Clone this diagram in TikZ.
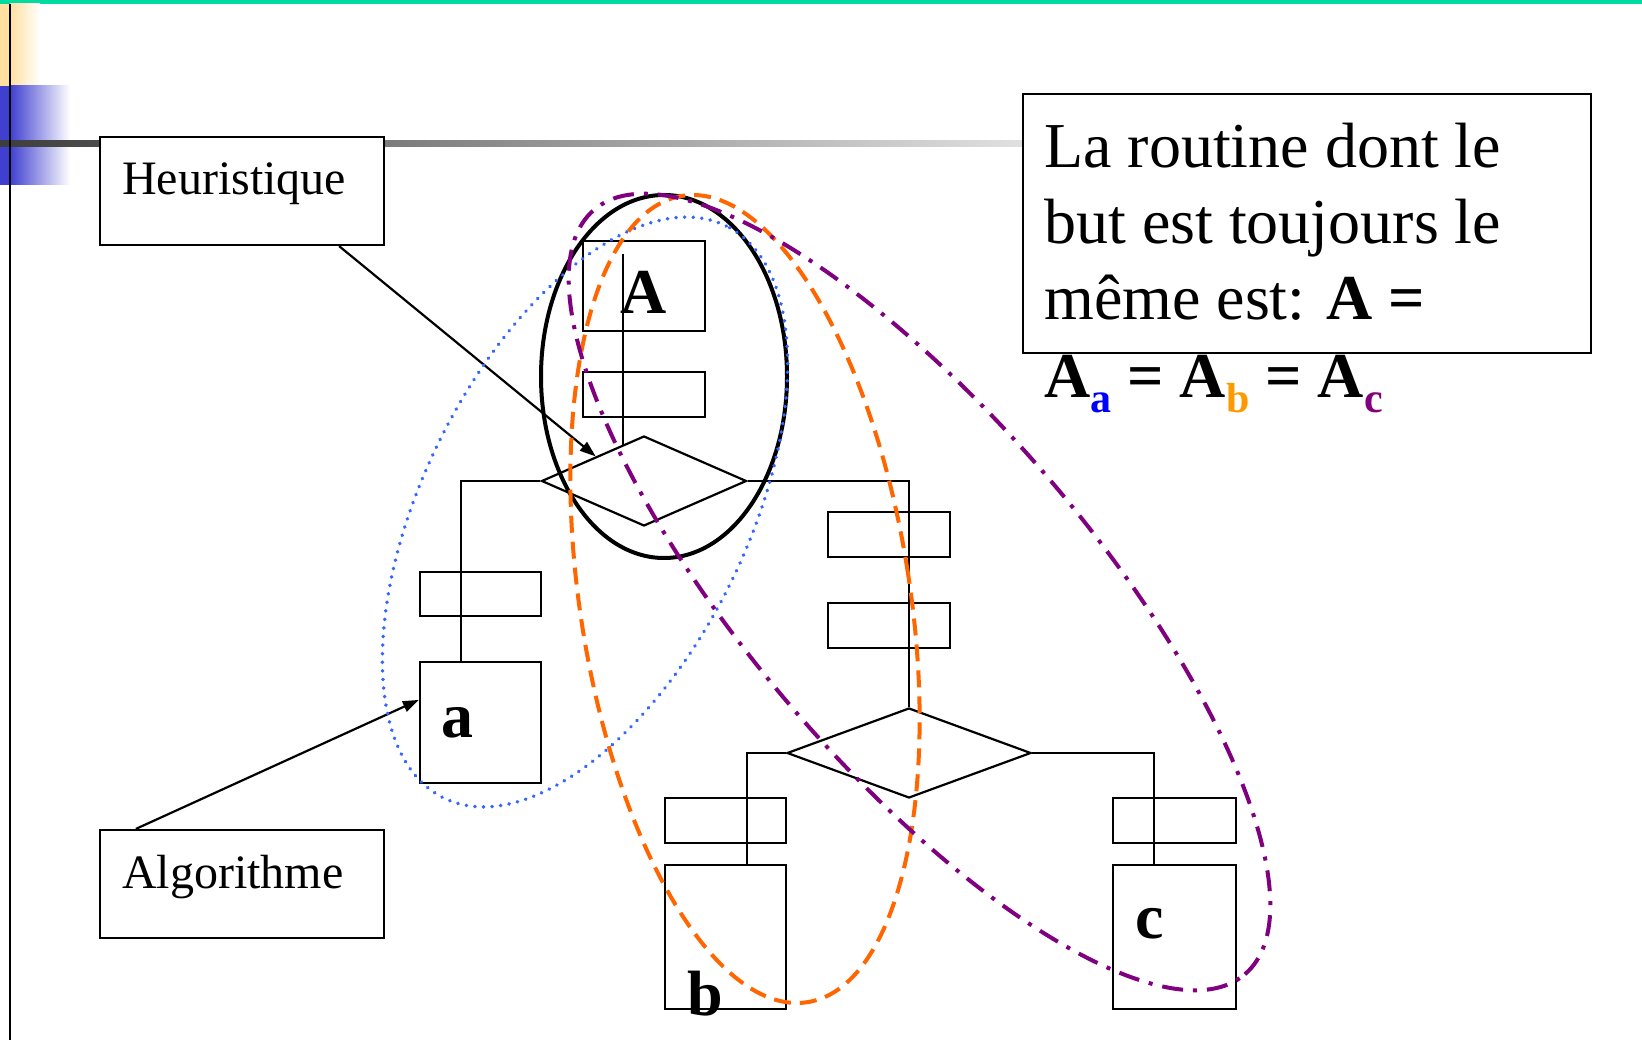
\documentclass[tikz,border=0pt]{standalone}
\usepackage{fontspec}
\setmainfont{Liberation Serif}
\usetikzlibrary{shapes.geometric,arrows.meta,calc}
\definecolor{dotblue}{RGB}{51,102,255}
\definecolor{dashorange}{RGB}{255,102,0}
\definecolor{dotpurple}{RGB}{128,0,128}
\definecolor{suba}{RGB}{0,0,255}
\definecolor{subb}{RGB}{255,153,0}
\definecolor{topgreen}{RGB}{0,220,160}
\definecolor{paleyellow}{RGB}{255,224,160}
\definecolor{deckblue}{RGB}{64,64,208}
\begin{document}
\begin{tikzpicture}[x=1pt,y=1pt,
  box/.style={draw,line width=2.2pt,inner sep=0pt},
  dia/.style={draw,diamond,line width=2.2pt,inner sep=0pt},
  conn/.style={line width=2.2pt},
  pointer/.style={line width=2.2pt,-{Triangle[length=16pt,width=11pt]}},
  label/.style={inner sep=0pt,anchor=base west,font=\fontsize{48}{58}\selectfont},
  notetext/.style={inner sep=0pt,anchor=base west,font=\fontsize{64}{77}\selectfont},
  letter/.style={inner sep=0pt,anchor=base west,font=\fontsize{64}{77}\selectfont\bfseries},
  ring/.style={draw,ellipse,inner sep=0pt,line width=4pt}]
\useasboundingbox (0,0) rectangle (1642,-1040);
\fill[white] (0,0) rectangle (1642,-1040);
% slide decoration
\fill[topgreen] (0,0) rectangle (1642,-4);
\fill[paleyellow] (0,-4) rectangle (10,-86);
\shade[left color=paleyellow,right color=white] (10,-4) rectangle (40,-86);
\fill[deckblue] (0,-86) rectangle (10,-185);
\shade[left color=deckblue,right color=white] (10,-86) rectangle (70,-185);
\shade[left color=black!76,right color=black!12] (0,-141) rectangle (1023,-147);
\draw[line width=2pt] (9.5,-4) -- (9.5,-1040);

% label boxes
\node[box,fill=white,minimum width=284pt,minimum height=108pt] (heur) at (242,-191) {};
\node[label] (heurtext) at (122,-195) {Heuristique};
\node[box,fill=white,minimum width=284pt,minimum height=108pt] (algo) at (242,-884) {};
\node[label] (algotext) at (122,-888) {Algorithme};

% flowchart
\node[box,minimum width=122pt,minimum height=90pt] (boxA) at (644,-286) {};
\node[box,minimum width=122pt,minimum height=45pt] (boxA2) at (644,-394.5) {};
\node[dia,minimum width=205pt,minimum height=90pt] (d1) at (644,-481) {};
\node[box,minimum width=121pt,minimum height=44pt] (boxa1) at (480.5,-594) {};
\node[box,minimum width=121pt,minimum height=121pt] (boxa) at (480.5,-722.5) {};
\node[box,minimum width=122pt,minimum height=45pt] (r1) at (889,-534.5) {};
\node[box,minimum width=122pt,minimum height=45pt] (r2) at (889,-625.5) {};
\node[dia,minimum width=244pt,minimum height=90pt] (d2) at (909,-753) {};
\node[box,minimum width=121pt,minimum height=45pt] (boxb1) at (725.5,-820.5) {};
\node[box,minimum width=121pt,minimum height=144pt] (boxb) at (725.5,-937) {};
\node[box,minimum width=123pt,minimum height=45pt] (boxc1) at (1174.5,-820.5) {};
\node[box,minimum width=123pt,minimum height=144pt] (boxc) at (1174.5,-937) {};

\node[letter] (lblA) at (620,-314) {A};
\node[letter] (lbla) at (441,-737) {a};
\node[letter] (lblb) at (687,-1015) {b};
\node[letter] (lblc) at (1135,-938) {c};

\coordinate (vt) at (623,-254);
\coordinate (vb) at (623,-445);
\coordinate (jl) at (461,-481);
\coordinate (jr) at (909,-481);
\coordinate (jbl) at (747,-753);
\coordinate (jbr) at (1154,-753);
\draw[conn] (vt) -- (vb);
\draw[conn] (d1.west) -- (jl) -- (jl |- boxa.north);
\draw[conn] (d1.east) -- (jr) -- (d2.north);
\draw[conn] (d2.west) -- (jbl) -- (jbl |- boxb.north);
\draw[conn] (d2.east) -- (jbr) -- (jbr |- boxc.north);

% pointers
\draw[pointer] ([xshift=-46pt]heur.south east) -- (d1.153);
\draw[pointer] ([xshift=37pt]algo.north west) -- ([yshift=-39pt]boxa.north west);

% note
\node[box,minimum width=568pt,minimum height=259pt] (note) at (1307,-223.5) {};
\node[notetext] (n1) at (1044,-168) {La routine dont le};
\node[notetext] (n2) at (1044,-244) {but est toujours le};
\node[notetext] (n3) at (1044,-320) {même est: \textbf{A =}};
\node[notetext] (n4) at (1044,-398) {\textbf{A}\raisebox{-15pt}{\fontsize{42}{42}\selectfont\bfseries\color{suba}a} \textbf{=} \textbf{A}\raisebox{-15pt}{\fontsize{42}{42}\selectfont\bfseries\color{subb}b} \textbf{=} \textbf{A}\raisebox{-15pt}{\fontsize{42}{42}\selectfont\bfseries\color{dotpurple}c}};

% rings
\node[ring,line width=4pt,minimum width=246pt,minimum height=363pt] (ringblack) at (664,-376.5) {};
\node[ring,dotblue,line width=3.8pt,line cap=round,dash pattern=on 0.1pt off 8.5pt,minimum width=638pt,minimum height=324pt,rotate=63.7] (ringblue) at (585,-512) {};
\node[ring,dashorange,dash pattern=on 17pt off 9pt,minimum width=330pt,minimum height=816pt,rotate=8.8] (ringorange) at (745,-599) {};
\node[ring,dotpurple,dash pattern=on 21pt off 10pt on 4pt off 10pt,minimum width=1004pt,minimum height=344pt,rotate=-49.6] (ringpurple) at (919.5,-592) {};
\end{tikzpicture}
\end{document}
